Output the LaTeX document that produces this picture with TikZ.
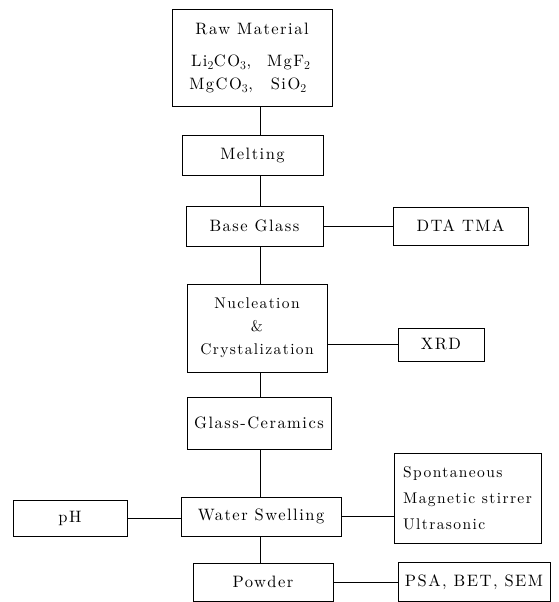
\documentclass[tikz,border=0pt]{standalone}
\usepackage{fontspec}
\setmainfont{lmroman10-regular.otf}[LetterSpace=9]
\usetikzlibrary{positioning}

\begin{document}
\begin{tikzpicture}[x=1pt, y=-1pt,
BoxStyle/.style={draw, line width=0.8pt, inner sep=0pt, outer sep=0pt,
                align=center, font=\fontsize{16.5}{23}\selectfont},
LinkStyle/.style={line width=0.8pt},]
\useasboundingbox (0,0) rectangle (558,602);
\coordinate (spine) at (260,0);
% main chain
\node [BoxStyle, minimum width=160pt, minimum height=97pt] (raw) at (252,57.5)
  {\begin{tabular}{@{}c@{\hspace{10pt}}c@{}}
   \multicolumn{2}{c}{Raw Material}\\[9pt]
   Li$_2$CO$_3$, & MgF$_2$\\
   MgCO$_3$, & SiO$_2$
   \end{tabular}};
\node [BoxStyle, minimum width=141pt, minimum height=40pt] (melt) at (252.5,155) {Melting};
\node [BoxStyle, minimum width=137pt, minimum height=40pt] (base) at (254.5,226) {Base Glass};
\node [BoxStyle, minimum width=140pt, minimum height=88pt,
       font=\fontsize{15.5}{23}\selectfont] (nuc) at (257,328)
  {Nucleation\\\&\\Crystalization};
\node [BoxStyle, minimum width=144pt, minimum height=52pt] (gc) at (259,423) {Glass-Ceramics};
\node [BoxStyle, minimum width=160pt, minimum height=39pt] (ws) at (261,516.5) {Water Swelling};
\node [BoxStyle, minimum width=140pt, minimum height=38pt] (powder) at (263,582) {Powder};
% side boxes
\node [BoxStyle, minimum width=135pt, minimum height=38pt] (dta) at (460.5,226) {DTA TMA};
\node [BoxStyle, minimum width=86pt, minimum height=33pt] (xrd) at (441,344.5) {XRD};
\node [BoxStyle, minimum width=114pt, minimum height=36pt] (ph) at (70,518) {pH};
\node [BoxStyle, minimum width=147pt, minimum height=90pt, align=left,
       font=\fontsize{15.5}{26}\selectfont] (spont) at (467.5,498)
  {Spontaneous\\Magnetic stirrer\\Ultrasonic};
\node [BoxStyle, minimum width=152pt, minimum height=39pt] (psa) at (474,582) {PSA, BET, SEM};
% connectors
\draw [LinkStyle] (raw.south -| spine) -- (melt.north -| spine);
\draw [LinkStyle] (melt.south -| spine) -- (base.north -| spine);
\draw [LinkStyle] (base.south -| spine) -- (nuc.north -| spine);
\draw [LinkStyle] (nuc.south -| spine) -- (gc.north -| spine);
\draw [LinkStyle] (gc.south -| spine) -- (ws.north -| spine);
\draw [LinkStyle] (ws.south -| spine) -- (powder.north -| spine);
\draw [LinkStyle] (base.east) -- (dta.west);
\draw [LinkStyle] (nuc.east |- xrd.west) -- (xrd.west);
\draw [LinkStyle] (ph.east) -- (ph.east -| ws.west);
\draw [LinkStyle] (ws.east) -- (ws.east -| spont.west);
\draw [LinkStyle] (powder.east) -- (powder.east -| psa.west);
\end{tikzpicture}
\end{document}
